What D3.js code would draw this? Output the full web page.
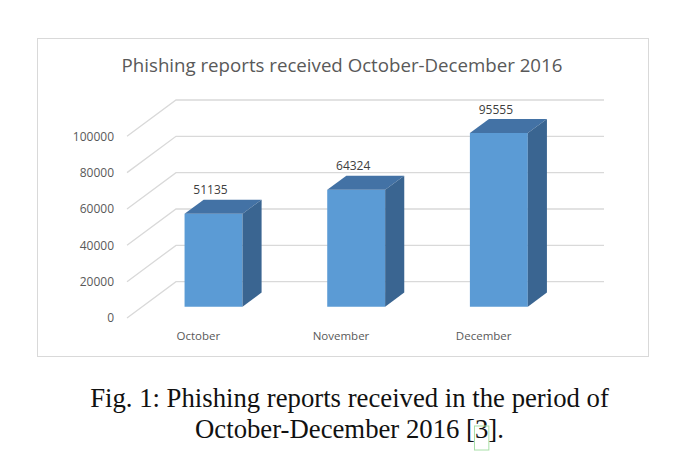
<!DOCTYPE html>
<html>
<head>
<meta charset="utf-8">
<script src="https://d3js.org/d3.v7.min.js"></script>
<style>
  body { margin: 0; background: #fff; }
  svg { display: block; }
</style>
</head>
<body>
<svg id="chart" width="680" height="471"></svg>
<script>
// data
var months = ["October", "November", "December"];
var reports = [51135, 64324, 95555];
var yTicks = [0, 20000, 40000, 60000, 80000, 100000];
var chartTitle = "Phishing reports received October-December 2016";
var captionLines = ["Fig. 1: Phishing reports received in the period of", "October-December 2016 [3]."];

var svg = d3.select("#chart");

// chart frame
svg.append("rect")
  .attr("x", 37.5).attr("y", 38.5)
  .attr("width", 611).attr("height", 318)
  .attr("fill", "#fff").attr("stroke", "#d9d9d9").attr("stroke-width", 1);

// scales (front floor plane) + oblique depth vector
var x = d3.scaleBand().domain(months).range([127, 555])
  .paddingInner(0.594).paddingOuter(0.297);
var y = d3.scaleLinear().domain([0, 100000]).range([318, 136.3]);
var depth = [49, -36.3];
var z0 = 0.31, z1 = 0.70; // bar sits in the middle of the floor depth

function p(px, v, z) {
  return [px + z * depth[0], y(v) + z * depth[1]];
}

// grid: diagonal on the side wall, then horizontal on the back wall
var x0 = x.range()[0], x1 = x.range()[1];
svg.append("g").selectAll("polyline")
  .data(yTicks)
  .join("polyline")
  .attr("points", function(t) {
    return [p(x0, t, 0), p(x0, t, 1), p(x1, t, 1)].map(function(d) { return d.join(","); }).join(" ");
  })
  .attr("fill", "none")
  .attr("stroke", "#d9d9d9")
  .attr("stroke-width", 1.3);

// y tick labels
svg.append("g").selectAll("text")
  .data(yTicks)
  .join("text")
  .attr("x", 114)
  .attr("y", function(t) { return y(t); })
  .attr("dy", "0.35em")
  .attr("text-anchor", "end")
  .attr("font-family", "Open Sans")
  .attr("font-size", 12)
  .attr("fill", "#595959")
  .text(function(t) { return t; });

// bars
var bars = svg.append("g").selectAll("g")
  .data(months.map(function(m, i) { return { m: m, v: reports[i] }; }))
  .join("g");

function poly(pts) { return pts.map(function(d) { return d.join(","); }).join(" "); }

bars.append("polygon") // front
  .attr("points", function(d) {
    var a = x(d.m), b = x(d.m) + x.bandwidth();
    return poly([p(a, 0, z0), p(b, 0, z0), p(b, d.v, z0), p(a, d.v, z0)]);
  })
  .attr("fill", "#5b9bd5");

bars.append("polygon") // top
  .attr("points", function(d) {
    var a = x(d.m), b = x(d.m) + x.bandwidth();
    return poly([p(a, d.v, z0), p(b, d.v, z0), p(b, d.v, z1), p(a, d.v, z1)]);
  })
  .attr("fill", "#4372a5");

bars.append("polygon") // side
  .attr("points", function(d) {
    var b = x(d.m) + x.bandwidth();
    return poly([p(b, 0, z0), p(b, 0, z1), p(b, d.v, z1), p(b, d.v, z0)]);
  })
  .attr("fill", "#3a6591");

// value labels
bars.append("text")
  .attr("x", function(d) { return p(x(d.m) + x.bandwidth() / 2, d.v, z0)[0] - 3; })
  .attr("y", function(d) { return p(0, d.v, z1)[1] - 9.5; })
  .attr("dy", "0.35em")
  .attr("text-anchor", "middle")
  .attr("font-family", "Open Sans")
  .attr("font-size", 12)
  .attr("fill", "#404040")
  .text(function(d) { return d.v; });

// category labels
svg.append("g").selectAll("text")
  .data(months)
  .join("text")
  .attr("x", function(m) { return x(m) + x.bandwidth() / 2; })
  .attr("y", 336)
  .attr("dy", "0.35em")
  .attr("text-anchor", "middle")
  .attr("font-family", "Open Sans")
  .attr("font-size", 11.5)
  .attr("fill", "#595959")
  .text(function(m) { return m; });

// fit a text element's font size so it spans the wanted width
function fitWidth(sel, w) {
  var fs = +sel.attr("font-size");
  var cur = sel.node().getComputedTextLength();
  sel.attr("font-size", fs * w / cur);
}

// title
var title = svg.append("text")
  .attr("x", 342).attr("y", 71.5)
  .attr("text-anchor", "middle")
  .attr("font-family", "Open Sans")
  .attr("font-size", 20)
  .attr("fill", "#595959")
  .text(chartTitle);
fitWidth(title, 441);

// caption below the chart
var cap1 = svg.append("text")
  .attr("x", 349.5).attr("y", 406.7)
  .attr("text-anchor", "middle")
  .attr("font-family", "Liberation Serif")
  .attr("font-size", 22)
  .attr("fill", "#111")
  .text(captionLines[0]);
fitWidth(cap1, 519);
var capSize = +cap1.attr("font-size");

var cap2 = svg.append("text")
  .attr("x", 349.5).attr("y", 438.3)
  .attr("text-anchor", "middle")
  .attr("font-family", "Liberation Serif")
  .attr("font-size", capSize)
  .attr("fill", "#111")
  .text(captionLines[1]);

// green link box round the citation number
var full = cap2.node().getComputedTextLength();
var idx = captionLines[1].indexOf("3]");
var pre = cap2.node().getSubStringLength(0, idx);
var num = cap2.node().getSubStringLength(idx, 1);
var left = 349.5 - full / 2;
svg.append("rect")
  .attr("x", left + pre - 0.5).attr("y", 426)
  .attr("width", num + 1).attr("height", 24)
  .attr("fill", "none")
  .attr("stroke", "#a8e0a8")
  .attr("stroke-width", 1);
</script>
</body>
</html>
